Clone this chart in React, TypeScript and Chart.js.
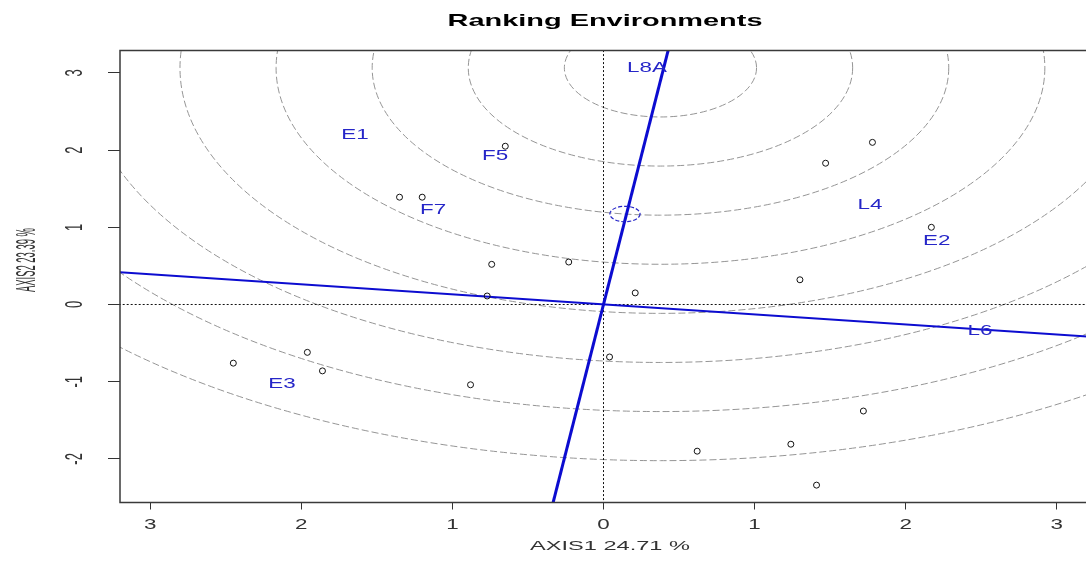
import React, { useEffect, useRef } from 'react';
import { Chart, registerables } from 'chart.js';

Chart.register(...registerables);

// ---- text ----
const titleText = 'Ranking Environments';
const xAxisTitle = 'AXIS1 24.71 %';
const yAxisTitle = 'AXIS2 23.39 %';

// ---- axes ----
const xRange = [-3.2, 3.2];
const yRange = [-2.565, 3.29];
const xTickValues = [-3, -2, -1, 0, 1, 2, 3];
const xTickLabels = ['3', '2', '1', '0', '1', '2', '3'];
const yTickValues = [-2, -1, 0, 1, 2, 3];
const yTickLabels = ['-2', '-1', '0', '1', '2', '3'];

// ---- genotype points (small open circles) ----
const genotypeX = [-1.35, -1.2, -0.65, -0.74, -0.23, -0.77, 0.21, 1.47, 1.78, 2.17, 1.3, 0.04, -2.45, -1.96, -1.86, -0.88, 1.72, 1.24, 0.62, 1.41];
const genotypeY = [1.39, 1.39, 2.05, 0.52, 0.55, 0.11, 0.15, 1.83, 2.1, 1.0, 0.32, -0.68, -0.76, -0.62, -0.86, -1.04, -1.38, -1.81, -1.9, -2.34];

// ---- environment labels ----
const envNames = ['E1', 'F5', 'F7', 'L8A', 'L4', 'E2', 'L6', 'E3'];
const envX = [-1.645, -0.718, -1.128, 0.288, 1.764, 2.206, 2.492, -2.128];
const envY = [2.196, 1.924, 1.224, 3.063, 1.289, 0.823, -0.343, -1.03];

// ---- average environment axis (AEC) and its perpendicular ----
const aecX = [-0.455, 0.455];
const aecY = [-3.5, 3.5];
const atcX = [-3.5, 3.5];
const atcY = [0.455, -0.455];

// ---- dotted zero lines ----
const hZeroX = [-3.5, 3.5];
const hZeroY = [0, 0];
const vZeroX = [0, 0];
const vZeroY = [-3, 3.6];

// ---- concentric rings around the ideal environment ----
const ringCenter = [0.377, 3.065];
const ringRadii = [0.636, 1.272, 1.908, 2.544, 3.18, 3.816, 4.452, 5.088];

// ---- average environment marker ----
const avgEnv = [0.142, 1.172];
const avgEnvRadius = 0.1;

const toPts = (xs: number[], ys: number[]) => xs.map((x, i) => ({ x, y: ys[i] }));

const FONT = '"Liberation Sans", Arial, sans-serif';

const ringsPlugin = {
  id: 'rings',
  beforeDatasetsDraw(chart: any) {
    const { ctx, chartArea, scales } = chart;
    const xs = scales.x;
    const ys = scales.y;
    const pxPerX = Math.abs(xs.getPixelForValue(1) - xs.getPixelForValue(0));
    const pxPerY = Math.abs(ys.getPixelForValue(1) - ys.getPixelForValue(0));
    ctx.save();
    ctx.beginPath();
    ctx.rect(chartArea.left, chartArea.top, chartArea.right - chartArea.left, chartArea.bottom - chartArea.top);
    ctx.clip();
    const cx = xs.getPixelForValue(ringCenter[0]);
    const cy = ys.getPixelForValue(ringCenter[1]);
    ctx.strokeStyle = '#959595';
    ctx.lineWidth = 1;
    ctx.setLineDash([7, 3]);
    ringRadii.forEach((r) => {
      ctx.beginPath();
      ctx.ellipse(cx, cy, r * pxPerX, r * pxPerY, 0, 0, Math.PI * 2);
      ctx.stroke();
    });
    ctx.restore();
  },
  afterDatasetsDraw(chart: any) {
    const { ctx, scales } = chart;
    const xs = scales.x;
    const ys = scales.y;
    const pxPerX = Math.abs(xs.getPixelForValue(1) - xs.getPixelForValue(0));
    const pxPerY = Math.abs(ys.getPixelForValue(1) - ys.getPixelForValue(0));
    ctx.save();
    // average environment marker
    ctx.strokeStyle = '#2424c8';
    ctx.lineWidth = 1.2;
    ctx.setLineDash([4, 2]);
    ctx.beginPath();
    ctx.ellipse(xs.getPixelForValue(avgEnv[0]), ys.getPixelForValue(avgEnv[1]), avgEnvRadius * pxPerX, avgEnvRadius * pxPerY, 0, 0, Math.PI * 2);
    ctx.stroke();
    ctx.setLineDash([]);
    // environment labels
    ctx.fillStyle = '#2626c8';
    ctx.font = `14px ${FONT}`;
    ctx.textAlign = 'center';
    ctx.textBaseline = 'middle';
    envNames.forEach((name, i) => {
      ctx.save();
      ctx.translate(xs.getPixelForValue(envX[i]), ys.getPixelForValue(envY[i]));
      ctx.scale(1.6, 1);
      ctx.fillText(name, 0, 0);
      ctx.restore();
    });
    ctx.restore();
  },
  afterDraw(chart: any) {
    const { ctx, chartArea, scales } = chart;
    const xs = scales.x;
    const ys = scales.y;
    ctx.save();
    // plot box
    ctx.strokeStyle = '#3a3a3a';
    ctx.lineWidth = 1.5;
    ctx.strokeRect(chartArea.left, chartArea.top, chartArea.right - chartArea.left, chartArea.bottom - chartArea.top);

    ctx.textAlign = 'center';
    ctx.textBaseline = 'middle';
    // title
    ctx.fillStyle = '#000';
    ctx.font = `bold 17px ${FONT}`;
    const tw = ctx.measureText(titleText).width;
    ctx.save();
    ctx.translate(605, 21);
    ctx.scale(315 / tw, 1);
    ctx.fillText(titleText, 0, 0);
    ctx.restore();

    // x tick labels
    ctx.fillStyle = '#333';
    ctx.font = `14px ${FONT}`;
    xs.ticks.forEach((t: any) => {
      const idx = xTickValues.indexOf(t.value);
      if (idx < 0) return;
      ctx.save();
      ctx.translate(xs.getPixelForValue(t.value), 525);
      ctx.scale(1.6, 1);
      ctx.fillText(xTickLabels[idx], 0, 0);
      ctx.restore();
    });
    // y tick labels (rotated)
    ctx.font = `13px ${FONT}`;
    ys.ticks.forEach((t: any) => {
      const idx = yTickValues.indexOf(t.value);
      if (idx < 0) return;
      ctx.save();
      ctx.translate(76, ys.getPixelForValue(t.value));
      ctx.rotate(-Math.PI / 2);
      ctx.scale(1, 1.8);
      ctx.fillText(yTickLabels[idx], 0, 0);
      ctx.restore();
    });
    // x axis title
    ctx.font = `13px ${FONT}`;
    const xw = ctx.measureText(xAxisTitle).width;
    ctx.save();
    ctx.translate(610, 546);
    ctx.scale(160 / xw, 1);
    ctx.fillText(xAxisTitle, 0, 0);
    ctx.restore();
    // y axis title
    ctx.font = `13px ${FONT}`;
    const yw = ctx.measureText(yAxisTitle).width;
    ctx.save();
    ctx.translate(27, 260);
    ctx.rotate(-Math.PI / 2);
    ctx.scale(64 / yw, 2.1);
    ctx.fillText(yAxisTitle, 0, 0);
    ctx.restore();
    ctx.restore();
  },
};

export default function App() {
  const ref = useRef<HTMLCanvasElement | null>(null);
  useEffect(() => {
    document.body.style.margin = '0';
    const canvas = ref.current;
    if (!canvas) return;
    const chart = new Chart(canvas, {
      type: 'scatter',
      data: {
        datasets: [
          {
            label: 'genotypes',
            data: toPts(genotypeX, genotypeY),
            pointRadius: 3,
            pointBorderWidth: 1,
            borderColor: '#111',
            backgroundColor: 'rgba(0,0,0,0)',
            pointStyle: 'circle',
            clip: 0,
          } as any,
          {
            label: 'AEC',
            data: toPts(aecX, aecY),
            showLine: true,
            borderColor: '#0c0cd0',
            borderWidth: 3,
            pointRadius: 0,
            clip: 0,
          } as any,
          {
            label: 'ATC',
            data: toPts(atcX, atcY),
            showLine: true,
            borderColor: '#0c0cd0',
            borderWidth: 2,
            pointRadius: 0,
            clip: 0,
          } as any,
          {
            label: 'h0',
            data: toPts(hZeroX, hZeroY),
            showLine: true,
            borderColor: '#111',
            borderWidth: 1,
            borderDash: [2, 2],
            pointRadius: 0,
            clip: 0,
          } as any,
          {
            label: 'v0',
            data: toPts(vZeroX, vZeroY),
            showLine: true,
            borderColor: '#111',
            borderWidth: 1,
            borderDash: [2, 2],
            pointRadius: 0,
            clip: 0,
          } as any,
        ],
      },
      options: {
        responsive: false,
        animation: false,
        devicePixelRatio: 1,
        layout: { padding: { top: 50.5, right: 5, bottom: 0, left: 0 } },
        plugins: {
          legend: { display: false },
          title: { display: false },
          tooltip: { enabled: false },
        },
        events: [],
        scales: {
          x: {
            type: 'linear',
            min: xRange[0],
            max: xRange[1],
            border: { display: false },
            grid: { display: true, drawOnChartArea: false, drawTicks: true, tickLength: 7, color: '#333', tickColor: '#333' },
            ticks: { display: false, stepSize: 1, includeBounds: false },
            afterFit: (s: any) => { s.height = 60.5; },
          },
          y: {
            type: 'linear',
            min: yRange[0],
            max: yRange[1],
            border: { display: false },
            grid: { display: true, drawOnChartArea: false, drawTicks: true, tickLength: 12, color: '#333', tickColor: '#333' },
            ticks: { display: false, stepSize: 1, includeBounds: false },
            afterFit: (s: any) => { s.width = 120; },
          },
        },
      } as any,
      plugins: [ringsPlugin],
    });
    return () => chart.destroy();
  }, []);
  return (
    <div style={{ position: 'fixed', left: 0, top: 0, width: 1086, height: 563, overflow: 'hidden', background: '#fff' }}>
      <canvas ref={ref} width={1092} height={563} style={{ width: 1092, height: 563, display: 'block' }} />
    </div>
  );
}
